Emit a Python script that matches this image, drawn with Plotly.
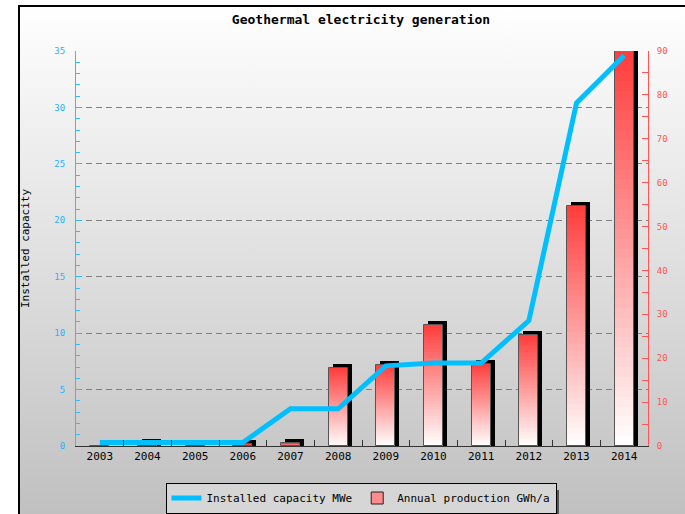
import base64
import plotly.graph_objects as go

years = ["2003", "2004", "2005", "2006", "2007", "2008", "2009", "2010", "2011", "2012", "2013", "2014"]
capacity_mwe = [0.3, 0.3, 0.3, 0.3, 3.3, 3.3, 7.1, 7.35, 7.35, 11.1, 30.4, 34.6]
production_gwh = [0.0, 0.8, 0.0, 0.5, 0.6, 17.8, 18.5, 27.6, 18.7, 25.3, 54.7, 90.0]

W, H = 685, 514
ML, MR, MT, MB = 76, 37, 51, 68
pw, ph = W - ML - MR, H - MT - MB

BAR_W = 0.4
SHADOW_DX = 0.084
SHADOW_DY = 0.9  # GWh equivalent of ~4px
N = 40

fig = go.Figure()

# shadow (3D-ish extrusion)
fig.add_trace(go.Bar(
    x=years, y=[v + SHADOW_DY if v > 0 else 0 for v in production_gwh],
    width=BAR_W, offset=-BAR_W / 2 + SHADOW_DX, cliponaxis=False,
    marker=dict(color="#000000", line=dict(width=0)),
    yaxis="y", showlegend=False, hoverinfo="skip"))

# gradient segments
def mix(t):
    top = (255, 60, 60)
    r = round(255 + (top[0] - 255) * t)
    g = round(255 + (top[1] - 255) * t)
    b = round(255 + (top[2] - 255) * t)
    return f"rgb({r},{g},{b})"

for i in range(N):
    fig.add_trace(go.Bar(
        x=years, y=[v / N for v in production_gwh],
        base=[v * i / N for v in production_gwh],
        width=BAR_W, offset=-BAR_W / 2, cliponaxis=False,
        marker=dict(color=mix((i + 0.5) / N), line=dict(width=0)),
        yaxis="y", showlegend=False, hoverinfo="skip"))

# outline
fig.add_trace(go.Bar(
    x=years, y=production_gwh, width=BAR_W, offset=-BAR_W / 2, cliponaxis=False,
    marker=dict(color="rgba(0,0,0,0)", line=dict(color="#555555", width=1)),
    yaxis="y", showlegend=False, hoverinfo="skip"))

# legend entry for bars
fig.add_trace(go.Bar(
    x=years, y=[None] * len(years), name="Annual production GWh/a",
    marker=dict(color="#ff8c8c", line=dict(color="#222222", width=1)),
    yaxis="y", showlegend=True, legendrank=2))

# line
fig.add_trace(go.Scatter(
    x=years, y=capacity_mwe, mode="lines", name="Installed capacity MWe",
    line=dict(color="#00bfff", width=5), yaxis="y2", legendrank=1))

svg = (
    '<svg xmlns="http://www.w3.org/2000/svg" width="667" height="509" viewBox="0 0 667 509" preserveAspectRatio="none">'
    '<defs><linearGradient id="g" x1="0" y1="0" x2="0" y2="1">'
    '<stop offset="0" stop-color="#ffffff"/><stop offset="1" stop-color="#c0c0c0"/>'
    '</linearGradient></defs>'
    '<rect x="0" y="0" width="667" height="509" fill="url(#g)"/>'
    '<line x1="1" y1="0" x2="1" y2="509" stroke="#000" stroke-width="2"/>'
    '<line x1="0" y1="1" x2="667" y2="1" stroke="#000" stroke-width="2"/>'
    '</svg>')
src = "data:image/svg+xml;base64," + base64.b64encode(svg.encode()).decode()

def px_x(p):
    return (p - ML) / pw

def px_y(p):
    return (H - MB - p) / ph

mono = "DejaVu Sans Mono"

fig.update_layout(
    width=W, height=H,
    margin=dict(l=ML, r=MR, t=MT, b=MB, autoexpand=False),
    paper_bgcolor="white", plot_bgcolor="rgba(0,0,0,0)",
    barmode="overlay", bargap=0,
    title=dict(text="<b>Geothermal electricity generation</b>", x=px_x(361), xanchor="center",
               y=1 - 19 / H, yanchor="middle", xref="paper",
               font=dict(family=mono, size=13, color="black")),
    images=[dict(source=src, xref="paper", yref="paper", x=px_x(18), y=px_y(5),
                 sizex=(W - 18) / pw, sizey=(H - 5) / ph, sizing="stretch",
                 xanchor="left", yanchor="top", layer="below")],
    xaxis=dict(type="category", range=[-0.5, 11.5], tickson="boundaries",
               ticks="inside", ticklen=6, tickcolor="#333333", showline=True,
               linecolor="#333333", linewidth=1, showgrid=False, zeroline=False,
               tickfont=dict(family=mono, size=11, color="black"), fixedrange=True),
    yaxis=dict(side="right", range=[0, 90], dtick=10, ticks="inside", ticklen=6,
               tickcolor="#ff5555", showline=True, linecolor="#ff5555", linewidth=1,
               showgrid=False, zeroline=False, ticklabelstandoff=6,
               tickfont=dict(family=mono, size=9, color="#ff5555"),
               minor=dict(dtick=5, ticks="inside", ticklen=6, tickcolor="#ff5555", showgrid=False)),
    yaxis2=dict(overlaying="y", side="left", anchor="x", range=[0, 35], dtick=5,
                ticks="inside", ticklen=5, tickcolor="#33bbff", showline=True,
                linecolor="#33bbff", linewidth=1, showgrid=True, gridcolor="#808080",
                griddash="6px,4px", gridwidth=1, zeroline=False, ticklabelstandoff=8,
                tickfont=dict(family=mono, size=9, color="#22b4ff"),
                title=dict(text="Installed capacity", standoff=22,
                           font=dict(family=mono, size=11, color="black")),
                minor=dict(dtick=1, ticks="inside", ticklen=4, tickcolor="#33bbff", showgrid=False)),
    legend=dict(orientation="h", x=px_x(361), xanchor="center", y=px_y(498), yanchor="middle",
                bgcolor="#d6d6d6", bordercolor="#000000", borderwidth=1, itemwidth=30,
                font=dict(family=mono, size=11, color="black"), traceorder="normal"),
    shapes=[dict(type="rect", xref="paper", yref="paper", x0=px_x(169), x1=px_x(559),
                 y0=px_y(514), y1=px_y(490), fillcolor="#555555", line=dict(width=0), layer="below")],
    showlegend=True,
)

fig.write_html("out.html")
